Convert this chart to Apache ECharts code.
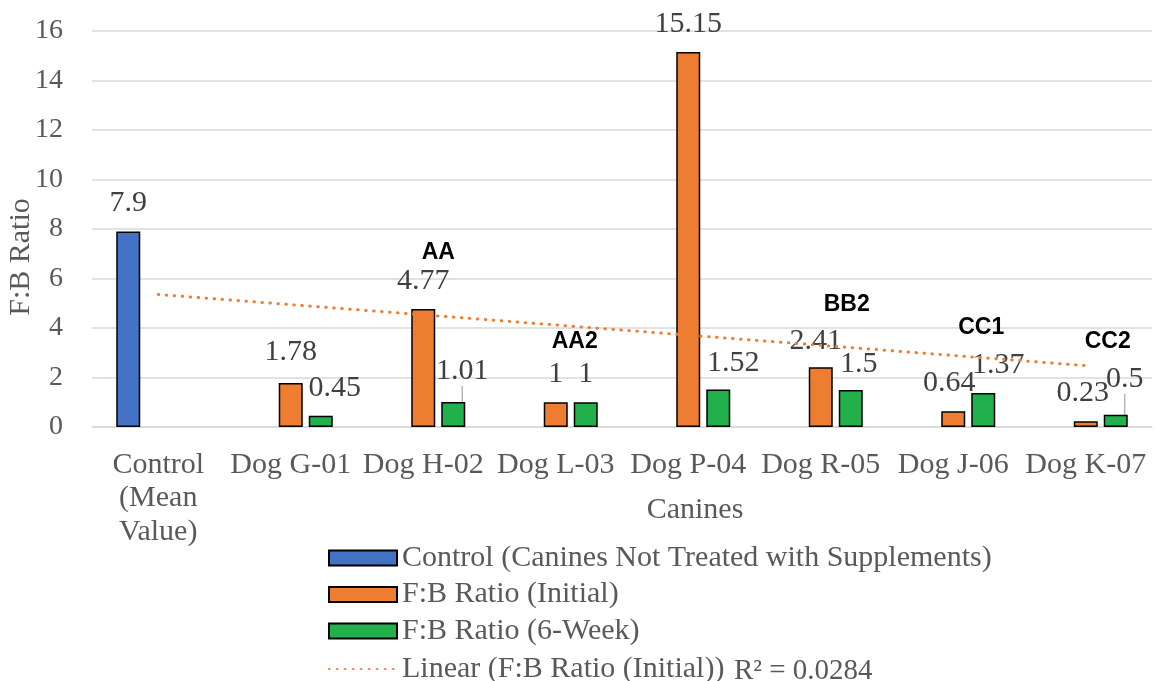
<!DOCTYPE html>
<html>
<head>
<meta charset="utf-8">
<title>F:B Ratio by Canine</title>
<script src="https://cdn.jsdelivr.net/npm/echarts@6/dist/echarts.min.js"></script>
<style>
  html, body { margin: 0; padding: 0; background: #ffffff; }
  #chart { width: 1155px; height: 681px; }
</style>
</head>
<body>
<div id="chart"></div>
<script>
// Categories and values
const categories = ['Control\n(Mean\nValue)', 'Dog G-01', 'Dog H-02', 'Dog L-03', 'Dog P-04', 'Dog R-05', 'Dog J-06', 'Dog K-07'];
const controlValues = [7.9, null, null, null, null, null, null, null];
const initialValues = [null, 1.78, 4.77, 1, 15.15, 2.41, 0.64, 0.23];
const sixWeekValues = [null, 0.45, 1.01, 1, 1.52, 1.5, 1.37, 0.5];
const yTicks = { min: 0, max: 16, interval: 2 };

// Group tags written above some of the canines: [category index, value height, horizontal nudge]
const groupTags = [
  { text: 'AA',  cat: 2, at: 7.03, dx: 15 },
  { text: 'AA2', cat: 3, at: 3.43, dx: 19 },
  { text: 'BB2', cat: 5, at: 4.93, dx: 26 },
  { text: 'CC1', cat: 6, at: 4.00, dx: 28 },
  { text: 'CC2', cat: 7, at: 3.43, dx: 22 }
];

// Hand-placed label nudges (pixels) and the two labels drawn with a leader line
const initialNudge = { 1: [0, -3], 5: [-5, 2], 6: [-4, 0], 7: [-3, 0] };
const sixWeekNudge = { 1: [14, 0], 2: [9, -3], 4: [15, 2], 5: [8, 2], 6: [15, 0], 7: [9, -8] };
const leaderLines = [2, 7];

// Least-squares linear trend of the initial ratio, x = 1..n as category position
function linearTrend(values) {
  const pts = [];
  values.forEach((v, i) => { if (v !== null) pts.push([i + 1, v]); });
  const n = pts.length;
  const mx = pts.reduce((s, p) => s + p[0], 0) / n;
  const my = pts.reduce((s, p) => s + p[1], 0) / n;
  let sxy = 0, sxx = 0, syy = 0;
  pts.forEach(p => { sxy += (p[0] - mx) * (p[1] - my); sxx += (p[0] - mx) ** 2; syy += (p[1] - my) ** 2; });
  const slope = sxy / sxx;
  const intercept = my - slope * mx;
  return {
    line: values.map((_, i) => +(intercept + slope * (i + 1)).toFixed(4)),
    r2: (sxy * sxy) / (sxx * syy)
  };
}
const trend = linearTrend(initialValues);

const SERIF = '"Liberation Serif", "Times New Roman", serif';
const SANS = '"Liberation Sans", Arial, sans-serif';
const BLUE = '#4472C4', ORANGE = '#ED7D31', GREEN = '#21B04B';
const trendName = 'Linear (F:B Ratio (Initial))';

const valueLabel = {
  show: true,
  position: 'top',
  distance: 13,
  fontFamily: SERIF,
  fontSize: 30,
  lineHeight: 30,
  color: '#404040'
};

function barData(values, withLeader) {
  return values.map((v, i) => {
    const item = { value: v };
    if (withLeader && leaderLines.includes(i)) {
      item.labelLine = { show: true };
    }
    return item;
  });
}

const chart = echarts.init(document.getElementById('chart'), null, { renderer: 'canvas' });

chart.setOption({
  animation: false,
  backgroundColor: '#ffffff',
  grid: { left: 92, right: 3, top: 31, bottom: 254, containLabel: false, outerBoundsMode: 'none' },
  legend: {
    orient: 'vertical',
    left: 323,
    top: 538,
    height: 160,
    itemWidth: 68,
    itemHeight: 15,
    itemGap: 6.5,
    data: [
      { name: 'Control (Canines Not Treated with Supplements)', icon: 'rect' },
      { name: 'F:B Ratio (Initial)', icon: 'rect' },
      { name: 'F:B Ratio (6-Week)', icon: 'rect' },
      { name: trendName, itemStyle: { color: 'rgba(0,0,0,0)', borderWidth: 0 } }
    ],
    formatter: name => name === trendName
      ? name + ' {r|R² = ' + trend.r2.toFixed(4) + '}'
      : name,
    textStyle: {
      fontFamily: SERIF,
      fontSize: 30,
      lineHeight: 26,
      color: '#595959',
      rich: {
        r: { fontFamily: SERIF, fontSize: 29, lineHeight: 26, color: '#595959', padding: [4, 0, 0, 2] }
      }
    }
  },
  xAxis: {
    type: 'category',
    data: categories,
    name: 'Canines',
    nameLocation: 'middle',
    nameGap: 68,
    nameMoveOverlap: false,
    nameTextStyle: { fontFamily: SERIF, fontSize: 30, color: '#595959', padding: [0, 0, 0, 146] },
    axisLine: { lineStyle: { color: '#D9D9D9', width: 1.5 } },
    axisTick: { show: false },
    axisLabel: {
      interval: 0,
      margin: 21,
      fontFamily: SERIF,
      fontSize: 30,
      lineHeight: 33.5,
      color: '#595959'
    }
  },
  yAxis: {
    type: 'value',
    min: yTicks.min,
    max: yTicks.max,
    interval: yTicks.interval,
    name: 'F:B Ratio',
    nameLocation: 'middle',
    nameRotate: 90,
    nameGap: 56,
    nameMoveOverlap: false,
    nameTextStyle: { fontFamily: SERIF, fontSize: 30, color: '#595959', padding: [0, 56, 0, 0] },
    axisLine: { show: false },
    axisTick: { show: false },
    axisLabel: { margin: 29, fontFamily: SERIF, fontSize: 28, color: '#595959' },
    splitLine: { lineStyle: { color: '#D9D9D9', width: 1.5 } }
  },
  series: [
    {
      name: 'Control (Canines Not Treated with Supplements)',
      type: 'bar',
      barWidth: 24,
      barGap: '25%',
      data: barData(controlValues, false),
      itemStyle: { color: BLUE, borderColor: '#000000', borderWidth: 1.5 },
      label: valueLabel
    },
    {
      name: 'F:B Ratio (Initial)',
      type: 'bar',
      barWidth: 24,
      barGap: '25%',
      data: barData(initialValues, false),
      itemStyle: { color: ORANGE, borderColor: '#000000', borderWidth: 1.5 },
      label: valueLabel,
      labelLayout: p => {
        const n = initialNudge[p.dataIndex];
        return n ? { dx: n[0], dy: n[1] } : {};
      }
    },
    {
      name: 'F:B Ratio (6-Week)',
      type: 'bar',
      barWidth: 24,
      barGap: '25%',
      data: barData(sixWeekValues, true),
      itemStyle: { color: GREEN, borderColor: '#000000', borderWidth: 1.5 },
      label: valueLabel,
      labelLine: { show: false, lineStyle: { color: '#A6A6A6', width: 1.2 } },
      labelLayout: p => {
        const n = sixWeekNudge[p.dataIndex];
        return n ? { dx: n[0], dy: n[1] } : {};
      }
    },
    {
      name: trendName,
      type: 'line',
      data: trend.line,
      symbol: 'none',
      z: 5,
      lineStyle: { color: ORANGE, width: 3, type: [0.5, 7.5], cap: 'round' },
      itemStyle: { color: ORANGE },
      markPoint: {
        symbol: 'circle',
        symbolSize: 0,
        silent: true,
        label: {
          show: true,
          position: 'inside',
          fontFamily: SANS,
          fontWeight: 'bold',
          fontSize: 23,
          color: '#000000'
        },
        data: groupTags.map(t => ({
          coord: [t.cat, t.at],
          value: t.text,
          label: { formatter: t.text, offset: [t.dx, 0] }
        }))
      }
    }
  ]
});
</script>
</body>
</html>
